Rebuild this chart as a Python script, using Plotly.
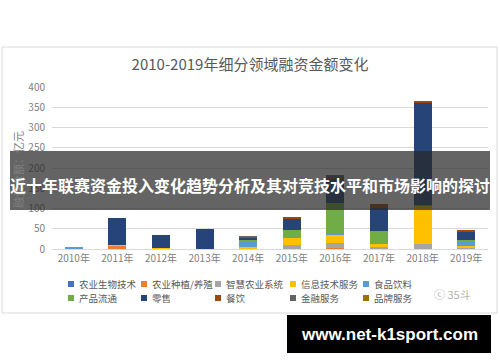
import plotly.graph_objects as go

years = ["2010年", "2011年", "2012年", "2013年", "2014年",
         "2015年", "2016年", "2017年", "2018年", "2019年"]

series_names = ["农业生物技术", "农业种植/养殖", "智慧农业系统", "信息技术服务", "食品饮料",
                "产品流通", "零售", "餐饮", "金融服务", "品牌服务"]

agri_biotech = [0, 0, 1, 0, 0, 0, 0, 0, 0, 1]
agri_farming = [0, 8, 0, 0, 1, 1, 2, 1, 1, 1]
smart_agri = [0, 0, 0, 0, 1, 9, 13, 3, 12, 2]
it_services = [0, 1, 1, 0, 3, 18, 19, 9, 95, 3]
food_bev = [5, 0, 0, 0, 14, 2, 5, 2, 1, 11]
circulation = [0, 0, 0, 0, 3, 16, 74, 30, 0, 4]
retail = [0, 67, 32, 50, 6, 27, 62, 57, 253, 22]
catering = [0, 0, 0, 0, 0, 5, 3, 9, 3, 4]
finance = [0, 0, 0, 0, 2, 0, 5, 0, 0, 0]
branding = [0, 0, 0, 0, 0, 0, 0, 0, 0, 0]

series_values = [agri_biotech, agri_farming, smart_agri, it_services, food_bev,
                 circulation, retail, catering, finance, branding]
colors = ["#4472C4", "#ED7D31", "#A5A5A5", "#FFC000", "#5B9BD5",
          "#70AD47", "#264478", "#9E480E", "#636363", "#997300"]

y_ticks = [0, 50, 100, 150, 200, 250, 300, 350, 400]

title_text = "2010-2019年细分领域融资金额变化"
y_title = "融资金额：亿元"
banner_text = "近十年联赛资金投入变化趋势分析及其对竞技水平和市场影响的探讨"
site_text = "www.net-k1sport.com"
watermark = "35斗"

W, H = 500, 362
L, R, T, B = 52, 488, 87, 249
FONT = "Noto Sans CJK SC, Noto Sans, sans-serif"


def fx(p):
    return (p - L) / (R - L)


def fy(p):
    return (B - p) / (B - T)


fig = go.Figure()
for name, vals, col in zip(series_names, series_values, colors):
    fig.add_trace(go.Bar(x=years, y=vals, name=name, marker_color=col,
                         marker_line_width=0, showlegend=False))

fig.update_layout(
    width=W, height=H,
    margin=dict(l=L, r=W - R, t=T, b=H - B),
    barmode="stack", bargap=0.59,
    plot_bgcolor="white", paper_bgcolor="white",
    font=dict(family=FONT, color="#808080", size=10),
    title=dict(text=title_text, x=0.5, xref="container", xanchor="center",
               y=(H - 65) / H, yref="container", yanchor="middle",
               font=dict(size=15, color="#595959", family=FONT)),
    xaxis=dict(showgrid=False, showline=True, linecolor="#d9d9d9", linewidth=1,
               ticks="", tickfont=dict(size=10, color="#808080")),
    yaxis=dict(range=[0, 400], tickvals=y_ticks, showgrid=True,
               gridcolor="#d9d9d9", gridwidth=1, zeroline=False, showline=False,
               ticks="", ticklabelstandoff=6,
               tickfont=dict(size=10, color="#808080")),
)

shapes = []
annotations = []

# outer chart border
shapes.append(dict(type="rect", xref="paper", yref="paper",
                   x0=fx(2), x1=fx(497), y0=fy(313), y1=fy(47),
                   line=dict(color="#d9d9d9", width=1), layer="below"))

# y axis title
annotations.append(dict(text=y_title, xref="paper", yref="paper",
                        x=fx(18), y=fy(170), textangle=-90, showarrow=False,
                        xanchor="center", yanchor="middle",
                        font=dict(size=11, color="#808080", family=FONT)))

# legend (custom, two rows of five)
col_x = [68, 141, 215, 290, 363]
row_y = [284, 298]
for i, (name, col) in enumerate(zip(series_names, colors)):
    r, c = divmod(i, 5)
    shapes.append(dict(type="rect", xref="paper", yref="paper",
                       x0=fx(col_x[c]), x1=fx(col_x[c] + 6),
                       y0=fy(row_y[r] + 3), y1=fy(row_y[r] - 3),
                       fillcolor=col, line=dict(width=0)))
    annotations.append(dict(
        text=name, xref="paper", yref="paper", x=fx(col_x[c] + 9), y=fy(row_y[r]),
        xanchor="left", yanchor="middle", showarrow=False,
        font=dict(size=9.5, color="#595959", family=FONT)))

# watermark
annotations.append(dict(text="ⓒ " + watermark, xref="paper", yref="paper",
                        x=fx(452), y=fy(294), xanchor="center", yanchor="middle",
                        showarrow=False,
                        font=dict(size=11, color="#b0b0b0", family=FONT)))

# banner overlay
shapes.append(dict(type="rect", xref="paper", yref="paper",
                   x0=fx(10), x1=fx(490), y0=fy(210), y1=fy(151),
                   fillcolor="rgba(40,40,40,0.72)", line=dict(width=0),
                   layer="above"))
annotations.append(dict(text=f"<b>{banner_text}</b>", xref="paper", yref="paper",
                        x=fx(250), y=fy(185), xanchor="center", yanchor="middle",
                        showarrow=False,
                        font=dict(size=16, color="white", family=FONT)))

# site box
shapes.append(dict(type="rect", xref="paper", yref="paper",
                   x0=fx(287), x1=fx(491), y0=fy(353), y1=fy(315),
                   fillcolor="black", line=dict(width=0), layer="above"))
annotations.append(dict(text=f"<b>{site_text}</b>", xref="paper", yref="paper",
                        x=fx(389), y=fy(334), xanchor="center", yanchor="middle",
                        showarrow=False,
                        font=dict(size=17, color="white",
                                  family="Liberation Sans, Arial, sans-serif")))

fig.update_layout(shapes=shapes, annotations=annotations)
fig.write_html("out.html", config={"displayModeBar": False},
               post_script="document.body.style.margin='0';document.body.style.overflow='hidden';")
